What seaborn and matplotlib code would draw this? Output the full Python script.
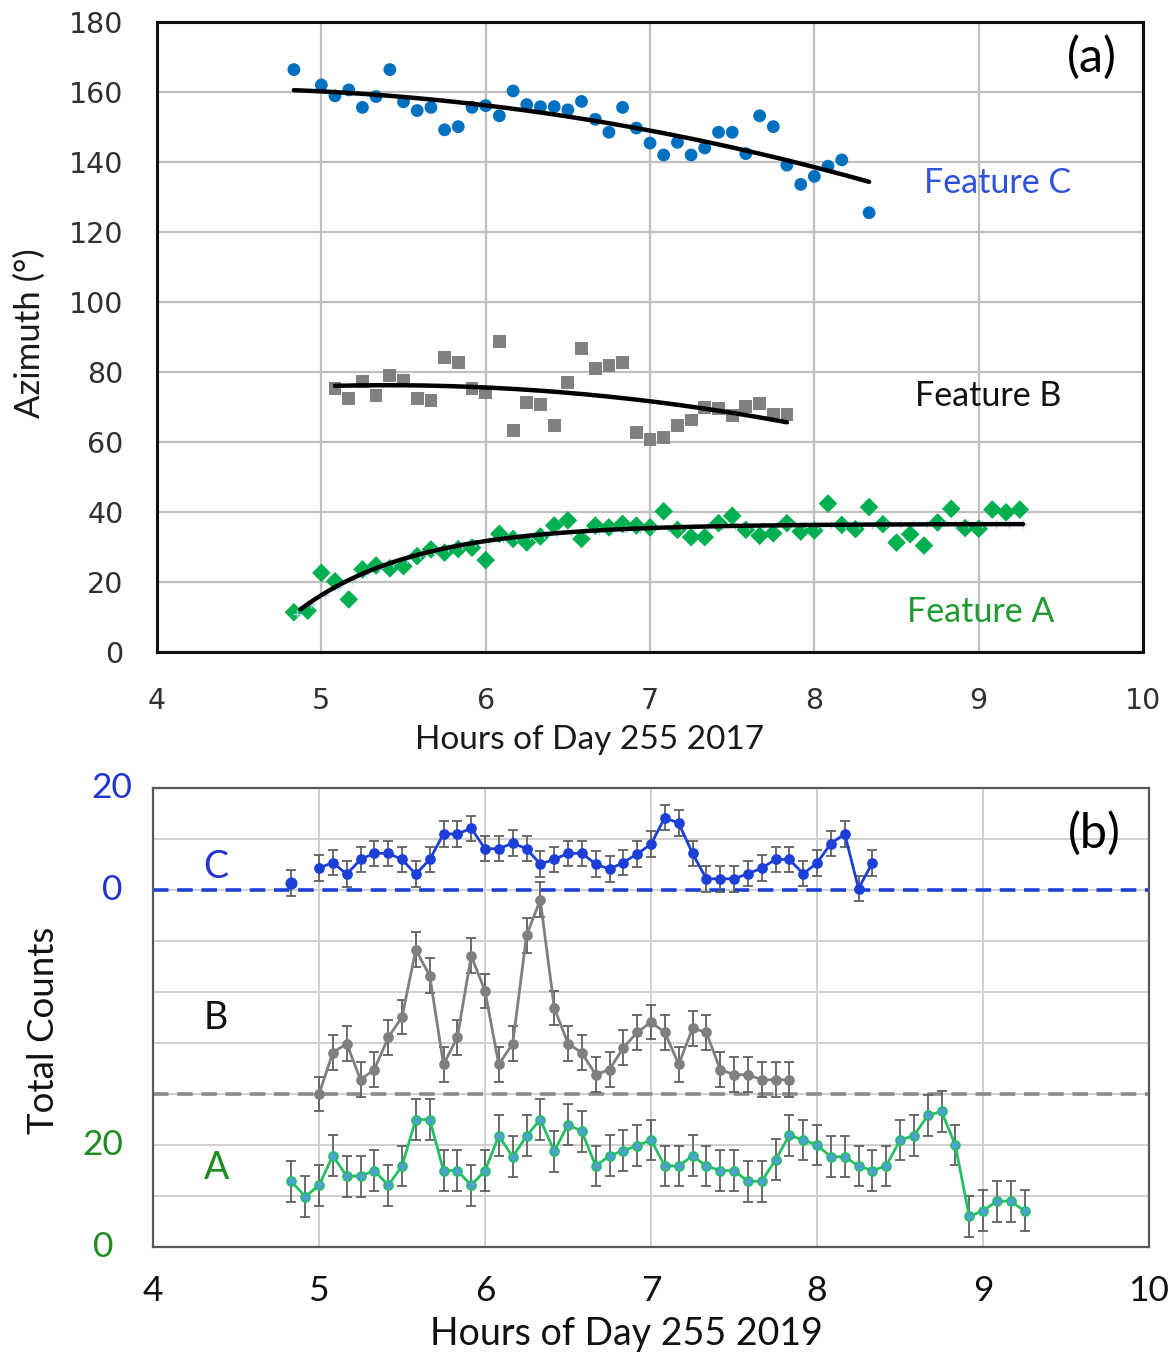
import numpy as np
import pandas as pd
import matplotlib
matplotlib.use("Agg")
import matplotlib.pyplot as plt
import matplotlib.transforms as mtransforms
import seaborn as sns

# ---------------- Panel (a): azimuth vs hour (Day 255 2017) ----------------
azC_hours = [4.833, 5.000, 5.083, 5.167, 5.250, 5.333, 5.417, 5.500, 5.583, 5.667,
             5.750, 5.833, 5.917, 6.000, 6.083, 6.167, 6.250, 6.333, 6.417, 6.500,
             6.583, 6.667, 6.750, 6.833, 6.917, 7.000, 7.083, 7.167, 7.250, 7.333,
             7.417, 7.500, 7.583, 7.667, 7.750, 7.833, 7.917, 8.000, 8.083, 8.167,
             8.333]
azC_deg = [166.4, 162.0, 158.9, 160.6, 155.6, 158.7, 166.4, 157.2, 154.7, 155.6,
           149.2, 150.1, 155.6, 156.1, 153.2, 160.3, 156.4, 155.8, 155.8, 154.9,
           157.3, 152.2, 148.5, 155.6, 149.7, 145.4, 142.0, 145.6, 142.0, 144.0,
           148.5, 148.5, 142.4, 153.2, 150.1, 139.1, 133.6, 135.9, 138.8, 140.6,
           125.5]

azB_hours = [5.083, 5.167, 5.250, 5.333, 5.417, 5.500, 5.583, 5.667, 5.750, 5.833,
             5.917, 6.000, 6.083, 6.167, 6.250, 6.333, 6.417, 6.500, 6.583, 6.667,
             6.750, 6.833, 6.917, 7.000, 7.083, 7.167, 7.250, 7.333, 7.417, 7.500,
             7.583, 7.667, 7.750, 7.833]
azB_deg = [75.3, 72.4, 77.3, 73.3, 79.0, 77.7, 72.4, 71.8, 84.1, 82.6,
           75.3, 74.1, 88.7, 63.2, 71.2, 70.8, 64.8, 77.0, 86.7, 81.0,
           81.9, 82.6, 62.7, 60.8, 61.2, 64.6, 66.3, 69.8, 69.5, 67.6,
           70.1, 71.0, 67.9, 67.9]

azA_hours = [4.833, 4.917, 5.000, 5.083, 5.167, 5.250, 5.333, 5.417, 5.500, 5.583,
             5.667, 5.750, 5.833, 5.917, 6.000, 6.083, 6.167, 6.250, 6.333, 6.417,
             6.500, 6.583, 6.667, 6.750, 6.833, 6.917, 7.000, 7.083, 7.167, 7.250,
             7.333, 7.417, 7.500, 7.583, 7.667, 7.750, 7.833, 7.917, 8.000, 8.083,
             8.167, 8.250, 8.333, 8.417, 8.500, 8.583, 8.667, 8.750, 8.833, 8.917,
             9.000, 9.083, 9.167, 9.250]
azA_deg = [11.35, 11.8, 22.6, 20.2, 15.0, 23.6, 24.7, 23.9, 24.5, 27.4,
           29.3, 28.4, 29.4, 29.8, 26.25, 33.75, 32.3, 31.3, 33.0, 36.15,
           37.6, 32.3, 36.1, 35.6, 36.6, 36.1, 35.6, 40.2, 34.9, 32.8,
           32.8, 36.8, 38.9, 34.9, 33.2, 33.9, 36.8, 34.4, 34.7, 42.4,
           36.3, 35.1, 41.4, 36.5, 31.25, 33.65, 30.4, 37.0, 40.9, 35.4,
           35.2, 40.7, 39.9, 40.7]

# ---------------- Panel (b): total counts vs hour (Day 255 2019) ----------------
cntC_hours = [4.833, 4.917, 5.000, 5.083, 5.167, 5.250, 5.333, 5.417, 5.500, 5.583,
              5.667, 5.750, 5.833, 5.917, 6.000, 6.083, 6.167, 6.250, 6.333, 6.417,
              6.500, 6.583, 6.667, 6.750, 6.833, 6.917, 7.000, 7.083, 7.167, 7.250,
              7.333, 7.417, 7.500, 7.583, 7.667, 7.750, 7.833, 7.917, 8.000, 8.083,
              8.167, 8.250, 8.333]
cntC = [1.4, np.nan, 4.3, 5.4, 3.1, 6.0, 7.2, 7.2, 6.0, 3.1,
        6.0, 11.0, 11.0, 12.1, 8.1, 8.1, 9.2, 8.1, 5.1, 6.0,
        7.2, 7.2, 5.1, 4.1, 5.4, 7.1, 9.0, 14.2, 13.1, 7.2,
        2.2, 2.2, 2.2, 3.2, 4.3, 6.0, 6.0, 3.2, 5.3, 9.1,
        11.0, 0.3, 5.3]

cntB_hours = [5.000, 5.083, 5.167, 5.250, 5.333, 5.417, 5.500, 5.583, 5.667, 5.750,
              5.833, 5.917, 6.000, 6.083, 6.167, 6.250, 6.333, 6.417, 6.500, 6.583,
              6.667, 6.750, 6.833, 6.917, 7.000, 7.083, 7.167, 7.250, 7.333, 7.417,
              7.500, 7.583, 7.667, 7.750, 7.833]
cntB = [0.0, 8.1, 9.9, 2.8, 4.8, 11.1, 15.1, 28.3, 23.2, 5.8,
        11.1, 27.1, 20.2, 5.8, 9.9, 31.1, 38.1, 16.9, 9.9, 8.1,
        3.8, 4.8, 9.1, 12.1, 14.1, 12.1, 5.8, 12.9, 12.1, 4.8,
        3.8, 3.8, 2.8, 2.8, 2.8]

cntA_hours = azA_hours
cntA = [12.9, 9.9, 12.1, 17.9, 13.9, 13.9, 15.0, 12.1, 15.9, 25.0,
        25.0, 15.0, 15.0, 12.1, 15.0, 21.8, 17.7, 21.8, 25.0, 18.8,
        24.0, 22.7, 15.9, 17.9, 18.9, 19.9, 21.0, 15.9, 15.9, 17.9,
        15.9, 15.0, 15.0, 12.9, 12.9, 17.1, 21.9, 21.0, 20.0, 17.7,
        17.7, 15.9, 15.0, 15.9, 21.0, 21.8, 25.8, 26.6, 20.0, 6.0,
        7.1, 9.0, 9.0, 7.1]

errC, errB, errA = 2.5, 3.4, 4.0
offC, offB, offA = 70, 30, 0          # vertical stacking offsets in panel (b)

x_ticks = [4, 5, 6, 7, 8, 9, 10]
az_ticks = [0, 20, 40, 60, 80, 100, 120, 140, 160, 180]

# ---------------- styling ----------------
sns.set_theme(style="white")
plt.rcParams['font.family'] = ['Lato', 'DejaVu Sans']

C_a, B_a, A_a = "#0070c0", "#808080", "#00b050"
C_b, B_b, A_b = "#1c3fd8", "#7f7f7f", "#22c063"
A_face = "#4f9fd2"
ERR = "#606060"

fig = plt.figure(figsize=(11.69, 13.58), dpi=100)
ax1 = fig.add_axes([0.1343, 0.5199, 0.8435, 0.4639])
ax2 = fig.add_axes([0.1309, 0.0817, 0.8520, 0.3380])

# ---------- panel (a) ----------
dC = pd.DataFrame({"hour": azC_hours, "az": azC_deg})
dB = pd.DataFrame({"hour": azB_hours, "az": azB_deg})
dA = pd.DataFrame({"hour": azA_hours, "az": azA_deg})

sns.scatterplot(data=dC, x="hour", y="az", ax=ax1, marker="o", s=85,
                color=C_a, edgecolor="none", zorder=3)
sns.scatterplot(data=dB, x="hour", y="az", ax=ax1, marker="s", s=85,
                color=B_a, edgecolor="none", zorder=3)
sns.scatterplot(data=dA, x="hour", y="az", ax=ax1, marker="D", s=90,
                color=A_a, edgecolor="none", zorder=3)

# trendlines (least-squares fits of the data)
hC = np.linspace(min(azC_hours), max(azC_hours), 200)
sns.lineplot(x=hC, y=np.polyval(np.polyfit(azC_hours, azC_deg, 2), hC),
             ax=ax1, color="black", lw=3.2, zorder=4)
hB = np.linspace(min(azB_hours), max(azB_hours), 200)
sns.lineplot(x=hB, y=np.polyval(np.polyfit(azB_hours, azB_deg, 2), hB),
             ax=ax1, color="black", lw=3.2, zorder=4)
tau = 0.7
hA_arr = np.array(azA_hours)
M = np.column_stack([np.ones_like(hA_arr), np.exp(-(hA_arr - hA_arr[0]) / tau)])
coefA, *_ = np.linalg.lstsq(M, np.array(azA_deg), rcond=None)
hA = np.linspace(hA_arr[0] + 0.04, hA_arr[-1] + 0.02, 200)
fitA = coefA[0] + coefA[1] * np.exp(-(hA - hA_arr[0]) / tau)
sns.lineplot(x=hA, y=fitA, ax=ax1, color="black", lw=3.2, zorder=4)
fitA_pts = coefA[0] + coefA[1] * np.exp(-(hA_arr - hA_arr[0]) / tau)
ax1.scatter(hA_arr + 0.02, fitA_pts, marker="+", s=40, color="#a9c8ef", lw=1.0, zorder=3.5)

ax1.set_xlim(4, 10)
ax1.set_ylim(0, 180)
ax1.set_xticks(x_ticks)
ax1.set_yticks(az_ticks)
ax1.set_xticklabels([str(t) for t in x_ticks], family="DejaVu Sans", fontsize=20.5, color="#303030")
ax1.set_yticklabels([str(t) for t in az_ticks], family="DejaVu Sans", fontsize=20.5, color="#303030")
ax1.tick_params(axis="x", length=0, pad=25)
ax1.tick_params(axis="y", length=0, pad=24)
ax1.grid(True, color="#bfbfbf", lw=1.6)
ax1.set_axisbelow(True)
for sp in ax1.spines.values():
    sp.set_color("#111111")
    sp.set_linewidth(2.2)
ax1.set_xlabel("Hours of Day 255 2017", fontsize=24, color="#1a1a1a")
ax1.xaxis.set_label_coords(0.439, -0.1397)
ax1.xaxis.label.set_va("center")
ax1.set_ylabel("Azimuth (°)", fontsize=25, color="#1a1a1a")
ax1.yaxis.set_label_coords(-0.1288, 0.506)
ax1.yaxis.label.set_va("center")

ax1.text(0.948, 0.944, "(a)", transform=ax1.transAxes, fontsize=35,
         ha="center", va="center", color="black")
ax1.text(8.67, 134, "Feature C", fontsize=24.5, color="#2f52dc", ha="left", va="center")
ax1.text(8.61, 73, "Feature B", fontsize=24.5, color="#111111", ha="left", va="center")
ax1.text(8.565, 11.4, "Feature A", fontsize=24.5, color="#1f9a30", ha="left", va="center")

# ---------- panel (b) ----------
def segments(hours, vals):
    """split a series at NaN gaps so the line is not drawn across them"""
    segs, cur = [], []
    for h, v in zip(hours, vals):
        if np.isnan(v):
            if cur:
                segs.append(cur)
            cur = []
        else:
            cur.append((h, v))
    if cur:
        segs.append(cur)
    return segs

def draw_series(hours, vals, off, err, color, mfc, mec, ms):
    h = np.array(hours, dtype=float)
    v = np.array(vals, dtype=float) + off
    ok = ~np.isnan(v)
    ax2.errorbar(h[ok], v[ok], yerr=err, fmt="none", ecolor=ERR, elinewidth=1.3,
                 capsize=3.6, capthick=1.3, zorder=3)
    for seg in segments(hours, list(np.array(vals, dtype=float) + off)):
        sh, sv = zip(*seg)
        df = pd.DataFrame({"hour": sh, "cnt": sv})
        if len(seg) > 1:
            sns.lineplot(data=df, x="hour", y="cnt", ax=ax2, color=color, lw=2.0,
                         marker="o", markersize=ms, markerfacecolor=mfc,
                         markeredgecolor=mec, markeredgewidth=1.2, zorder=4,
                         estimator=None, sort=False)
        else:
            sns.scatterplot(data=df, x="hour", y="cnt", ax=ax2, color=mfc,
                            s=(ms + 1) ** 2, edgecolor=mec, linewidth=1.2, zorder=4)

ax2.axhline(offC, color=C_b, lw=2.6, ls=(0, (4.3, 2.4)), zorder=2)
ax2.axhline(offB, color="#8a8a8a", lw=2.6, ls=(0, (4.3, 2.4)), zorder=2)

draw_series(cntC_hours, cntC, offC, errC, C_b, C_b, C_b, 6.5)
draw_series(cntB_hours, cntB, offB, errB, B_b, B_b, B_b, 6.5)
draw_series(cntA_hours, cntA, offA, errA, A_b, A_face, A_b, 6.5)

ax2.set_xlim(4, 10)
ax2.set_ylim(0, 90)
ax2.set_xticks(x_ticks)
ax2.set_xticklabels([str(t) for t in x_ticks], fontsize=25.5, color="#111111")
ax2.set_xticks(np.arange(4, 10.01, 0.25), minor=True)
ax2.set_yticks(np.arange(0, 91, 10))
ax2.set_yticklabels([""] * 10)
ax2.set_yticks(np.arange(5, 90, 10), minor=True)
ax2.tick_params(axis="x", which="major", length=0, pad=20)
ax2.tick_params(axis="both", which="minor", direction="in", length=5, width=1.0, color="#bbbbbb")
ax2.tick_params(axis="y", which="major", length=0)
ax2.grid(True, which="major", color="#d0d0d0", lw=1.4)
ax2.set_axisbelow(True)
for sp in ax2.spines.values():
    sp.set_color("#595959")
    sp.set_linewidth(1.6)

# stacked y-axis labels
ytrans = mtransforms.blended_transform_factory(ax2.transAxes, ax2.transData)
for val, lab, col, xpos in [(offC + 20, "20", "#2233d0", -0.041), (offC, "0", "#2233d0", -0.041),
                            (offA + 20, "20", "#1e8c1e", -0.050), (offA, "0", "#1e8c1e", -0.050)]:
    ax2.text(xpos, val, lab, transform=ytrans, fontsize=25.5, color=col, ha="center", va="center")

ax2.set_xlabel("Hours of Day 255 2019", fontsize=27, color="#111111")
ax2.xaxis.set_label_coords(0.475, -0.1895)
ax2.xaxis.label.set_va("center")
ax2.set_ylabel("Total Counts", fontsize=26.5, color="#111111")
ax2.yaxis.set_label_coords(-0.110, 0.473)
ax2.yaxis.label.set_va("center")

ax2.text(0.945, 0.902, "(b)", transform=ax2.transAxes, fontsize=35,
         ha="center", va="center", color="black")
ax2.text(4.38, offC + 4.5, "C", fontsize=27, color="#2233d0", ha="center", va="center")
ax2.text(4.38, offB + 14.9, "B", fontsize=27, color="#111111", ha="center", va="center")
ax2.text(4.38, offA + 15.5, "A", fontsize=27, color="#1e8c1e", ha="center", va="center")

fig.savefig("out.png", dpi=100)
